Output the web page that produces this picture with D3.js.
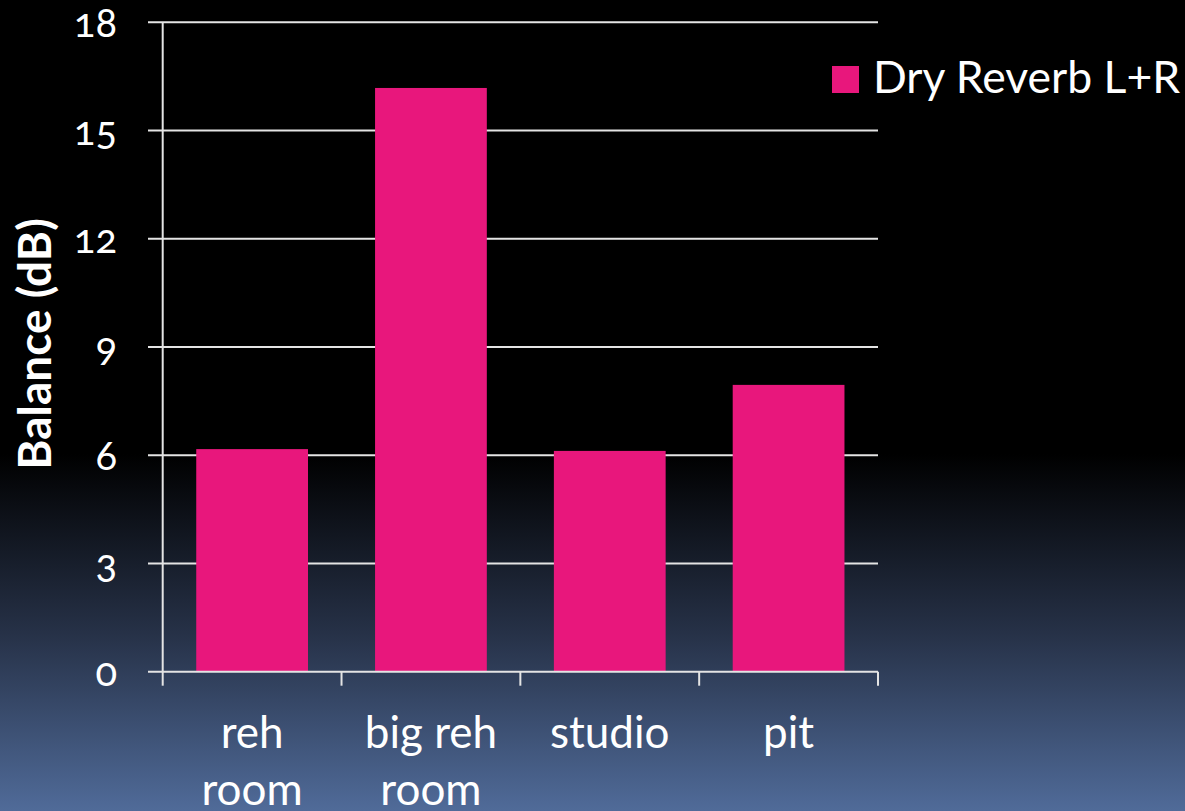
<!DOCTYPE html>
<html>
<head>
<meta charset="utf-8">
<script src="https://cdn.jsdelivr.net/npm/d3@7"></script>
<style>
  html, body { margin: 0; padding: 0; background: #000; }
  svg { display: block; }
  text { font-family: Lato, "Open Sans", sans-serif; fill: #fff; }
</style>
</head>
<body>
<svg id="chart" width="1185" height="811"></svg>
<script>
// Chart data
const categories = [["reh", "room"], ["big reh", "room"], ["studio"], ["pit"]];
const seriesName = "Dry Reverb L+R";
const values = [6.17, 16.18, 6.12, 7.95];
const yTicks = [0, 3, 6, 9, 12, 15, 18];
const yTitle = "Balance (dB)";

const W = 1185, H = 811;
const plot = { left: 162.7, right: 878, top: 22.3, bottom: 671.7 };
const barColor = "#e8177c";
const lineColor = "#e4e4e4";

const svg = d3.select("#chart");

// Background: black fading into slate blue toward the bottom
const defs = svg.append("defs");
const grad = defs.append("linearGradient")
  .attr("id", "bg").attr("x1", 0).attr("y1", 0).attr("x2", 0).attr("y2", 1);
grad.append("stop").attr("offset", "0.56").attr("stop-color", "#000000");
grad.append("stop").attr("offset", "0.78").attr("stop-color", "#263147");
grad.append("stop").attr("offset", "1").attr("stop-color", "#506b99");
svg.append("rect").attr("width", W).attr("height", H).attr("fill", "url(#bg)");

const keys = categories.map(c => c.join(" "));
const x = d3.scaleBand().domain(keys)
  .range([plot.left, plot.right])
  .paddingInner(0.375).paddingOuter(0.1875);
const y = d3.scaleLinear().domain([0, 18]).range([plot.bottom, plot.top]);

// Horizontal gridlines with left tick stubs
svg.append("g").selectAll("line").data(yTicks.filter(t => t > 0)).join("line")
  .attr("x1", plot.left - 14.7).attr("x2", plot.right)
  .attr("y1", d => y(d)).attr("y2", d => y(d))
  .attr("stroke", lineColor).attr("stroke-width", 2);

// Bars
svg.append("g").selectAll("rect").data(values).join("rect")
  .attr("x", (d, i) => x(keys[i]))
  .attr("width", x.bandwidth())
  .attr("y", d => y(d))
  .attr("height", d => y(0) - y(d))
  .attr("fill", barColor);

// Y axis line
svg.append("line")
  .attr("x1", plot.left).attr("x2", plot.left)
  .attr("y1", plot.top).attr("y2", plot.bottom)
  .attr("stroke", lineColor).attr("stroke-width", 2);

// X axis baseline and boundary ticks
svg.append("line")
  .attr("x1", plot.left - 14.7).attr("x2", plot.right)
  .attr("y1", plot.bottom).attr("y2", plot.bottom)
  .attr("stroke", lineColor).attr("stroke-width", 2);
const step = x.step();
const boundaries = d3.range(keys.length + 1).map(i => plot.left + i * step);
svg.append("g").selectAll("line").data(boundaries).join("line")
  .attr("x1", d => d).attr("x2", d => d)
  .attr("y1", plot.bottom).attr("y2", plot.bottom + 14)
  .attr("stroke", lineColor).attr("stroke-width", 2);

// Y tick labels
svg.append("g").selectAll("text").data(yTicks).join("text")
  .attr("x", 117).attr("y", d => y(d))
  .attr("dy", "0.36em")
  .attr("text-anchor", "end")
  .style("font-size", "40px")
  .style("font-variant-numeric", "oldstyle-nums")
  .text(d => d);

// Category labels (two lines where needed)
const catG = svg.append("g").selectAll("text").data(categories).join("text")
  .attr("text-anchor", "middle")
  .style("font-size", "44px");
catG.selectAll("tspan").data((d, i) => d.map(s => ({ s, i }))).join("tspan")
  .attr("x", d => x(keys[d.i]) + x.bandwidth() / 2)
  .attr("y", (d, j) => 748 + j * 57)
  .text(d => d.s);

// Y axis title
svg.append("text")
  .attr("transform", "translate(51,344) rotate(-90)")
  .attr("text-anchor", "middle")
  .style("font-size", "46px")
  .style("font-weight", "bold")
  .text(yTitle);

// Legend
svg.append("rect").attr("x", 832).attr("y", 66).attr("width", 27).attr("height", 27)
  .attr("fill", barColor);
svg.append("text").attr("x", 873).attr("y", 92.5)
  .style("font-size", "44.5px")
  .text(seriesName);
</script>
</body>
</html>
